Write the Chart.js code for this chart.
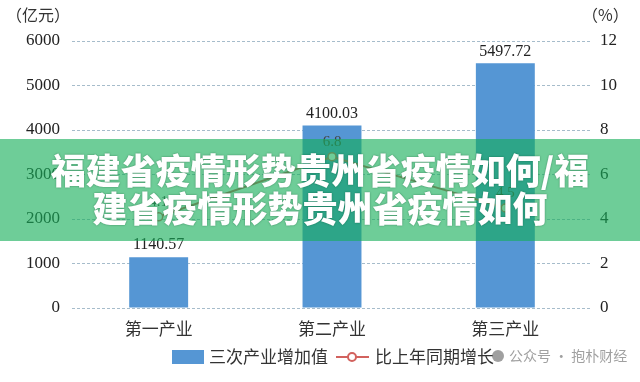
<!DOCTYPE html>
<html>
<head>
<meta charset="utf-8">
<script src="https://cdn.jsdelivr.net/npm/chart.js@4/dist/chart.umd.min.js"></script>
<style>
  body { margin: 0; background: #fff; }
  #wrap { position: relative; width: 640px; height: 382px; }
  #banner {
    position: absolute; left: 0; top: 139px; width: 640px; height: 102px;
    background: rgba(21, 174, 89, 0.62);
    color: #fff; font-family: "Noto Sans CJK SC", sans-serif; font-weight: 900;
    font-size: 35px; line-height: 38px; text-align: center;
    padding-top: 11px; box-sizing: border-box;
    text-shadow: 0 0 2px rgba(0,60,30,0.5);
  }
</style>
</head>
<body>
<div id="wrap">
  <canvas id="myChart" width="640" height="382"></canvas>
  <div id="banner">福建省疫情形势贵州省疫情如何/福<br>建省疫情形势贵州省疫情如何</div>
</div>
<script>
var categories = ['第一产业', '第二产业', '第三产业'];
var addedValue = [1140.57, 4100.03, 5497.72];
var growthRate = [4.1, 6.8, 4.5];
var leftTicks = [0, 1000, 2000, 3000, 4000, 5000, 6000];
var rightTicks = [0, 2, 4, 6, 8, 10, 12];

var serif = '"Liberation Serif", "Noto Sans CJK SC", serif';
var cjk = '"Noto Sans CJK SC", sans-serif';

var extras = {
  id: 'extras',
  afterDatasetsDraw: function(chart) {
    var ctx = chart.ctx;
    ctx.save();
    ctx.fillStyle = '#222';
    ctx.textAlign = 'center';
    ctx.textBaseline = 'bottom';
    ctx.font = '16px ' + serif;
    chart.getDatasetMeta(0).data.forEach(function(bar, i) {
      ctx.fillText(addedValue[i].toFixed(2), bar.x, bar.y - 4);
    });
    ctx.fillStyle = '#444';
    ctx.font = '15px ' + serif;
    chart.getDatasetMeta(1).data.forEach(function(pt, i) {
      ctx.fillText(growthRate[i].toFixed(1), pt.x, pt.y - 7);
    });
    // axis unit titles
    ctx.fillStyle = '#333';
    ctx.font = '16px ' + cjk;
    ctx.textBaseline = 'middle';
    ctx.textAlign = 'left';
    ctx.fillText('（亿元）', 6, 15);
    ctx.fillText('（%）', 582, 15);
    // legend
    var ly = 357;
    ctx.fillStyle = '#5596d4';
    ctx.fillRect(172, ly - 7, 32, 14);
    ctx.fillStyle = '#333';
    ctx.font = '17px ' + cjk;
    ctx.fillText('三次产业增加值', 209, ly);
    ctx.strokeStyle = '#d2625e';
    ctx.lineWidth = 2;
    ctx.beginPath(); ctx.moveTo(336, ly); ctx.lineTo(369, ly); ctx.stroke();
    ctx.beginPath(); ctx.arc(352, ly, 4, 0, Math.PI * 2);
    ctx.fillStyle = '#fff'; ctx.fill(); ctx.stroke();
    ctx.fillStyle = '#333';
    ctx.fillText('比上年同期增长', 375, ly);
    // watermark
    ctx.fillStyle = 'rgba(120,120,120,0.7)';
    ctx.font = '14px ' + cjk;
    ctx.beginPath(); ctx.arc(498, ly - 1, 6, 0, Math.PI * 2); ctx.fill();
    ctx.fillText('公众号 · 抱朴财经', 509, ly - 1);
    ctx.restore();
  }
};

function plain(v) { return String(v); }

new Chart(document.getElementById('myChart'), {
  data: {
    labels: categories,
    datasets: [{
      type: 'bar',
      label: '三次产业增加值',
      data: addedValue,
      backgroundColor: '#5596d4',
      barPercentage: 0.34,
      categoryPercentage: 1,
      yAxisID: 'y',
      order: 2
    }, {
      type: 'line',
      label: '比上年同期增长',
      data: growthRate,
      borderColor: '#d2625e',
      borderWidth: 2,
      pointRadius: 4,
      pointBackgroundColor: '#fff',
      pointBorderColor: '#d2625e',
      pointBorderWidth: 1.5,
      tension: 0,
      yAxisID: 'y1',
      order: 1
    }]
  },
  options: {
    responsive: false,
    animation: false,
    layout: { padding: { top: 41, bottom: 0 } },
    plugins: { legend: { display: false }, tooltip: { enabled: false } },
    scales: {
      x: {
        grid: { display: false },
        border: { display: false },
        ticks: { color: '#333', font: { size: 17, family: cjk }, padding: 2 },
        afterFit: function(s) { s.height = 74; }
      },
      y: {
        position: 'left',
        min: 0, max: 6000,
        afterBuildTicks: function(s) { s.ticks = leftTicks.map(function(v) { return { value: v }; }); },
        grid: { color: '#a6bccb', lineWidth: 1, drawTicks: false },
        border: { display: false, dash: [3, 2] },
        ticks: { color: '#222', font: { size: 17, family: serif }, padding: 12, callback: plain },
        afterFit: function(s) { s.width = 72; }
      },
      y1: {
        position: 'right',
        min: 0, max: 12,
        afterBuildTicks: function(s) { s.ticks = rightTicks.map(function(v) { return { value: v }; }); },
        grid: { display: false, drawTicks: false },
        border: { display: false },
        ticks: { color: '#222', font: { size: 17, family: serif }, padding: 8, callback: plain },
        afterFit: function(s) { s.width = 48; }
      }
    }
  },
  plugins: [extras]
});
</script>
</body>
</html>
